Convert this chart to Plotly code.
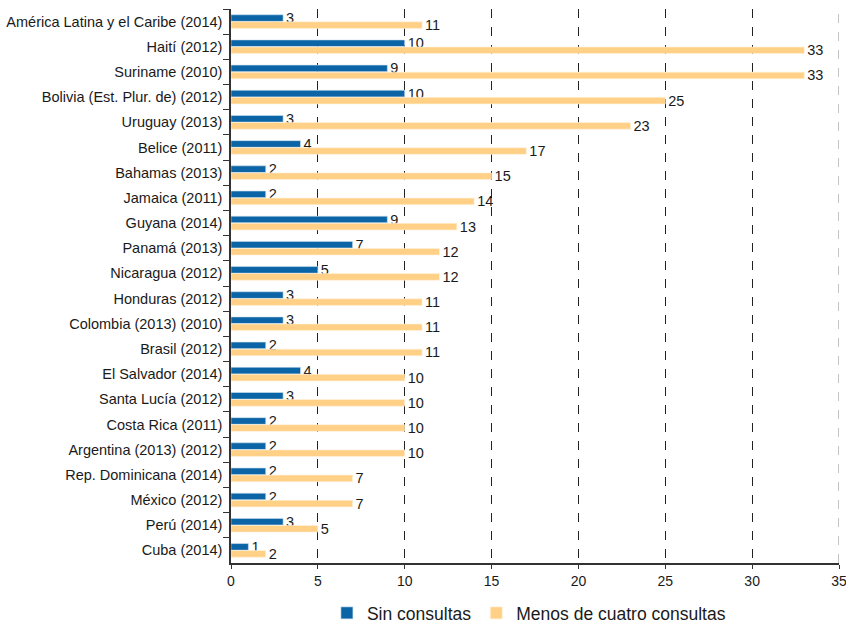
import plotly.graph_objects as go

categories = [
    "América Latina y el Caribe (2014)", "Haití (2012)", "Suriname (2010)",
    "Bolivia (Est. Plur. de) (2012)", "Uruguay (2013)", "Belice (2011)",
    "Bahamas (2013)", "Jamaica (2011)", "Guyana (2014)", "Panamá (2013)",
    "Nicaragua (2012)", "Honduras (2012)", "Colombia (2013) (2010)",
    "Brasil (2012)", "El Salvador (2014)", "Santa Lucía (2012)",
    "Costa Rica (2011)", "Argentina (2013) (2012)", "Rep. Dominicana (2014)",
    "México (2012)", "Perú (2014)", "Cuba (2014)",
]
sin_consultas = [3, 10, 9, 10, 3, 4, 2, 2, 9, 7, 5, 3, 3, 2, 4, 3, 2, 2, 2, 2, 3, 1]
menos_cuatro = [11, 33, 33, 25, 23, 17, 15, 14, 13, 12, 12, 11, 11, 11, 10, 10, 10, 10, 7, 7, 5, 2]
x_ticks = [0, 5, 10, 15, 20, 25, 30, 35]

FONT = "Liberation Sans, Arial, sans-serif"

fig = go.Figure()
fig.add_trace(go.Bar(
    y=categories, x=sin_consultas, orientation="h", name="Sin consultas",
    marker=dict(color="#0a64a5", line=dict(color="#cfe0ee", width=0.6)),
    text=[str(v) for v in sin_consultas], textposition="outside", constraintext="none",
    textfont=dict(size=14.5, color="#1a1a1a", family=FONT), cliponaxis=False,
))
fig.add_trace(go.Bar(
    y=categories, x=menos_cuatro, orientation="h", name="Menos de cuatro consultas",
    marker=dict(color="#ffd086", line=dict(color="#fff3df", width=0.6)),
    text=[str(v) for v in menos_cuatro], textposition="outside", constraintext="none",
    textfont=dict(size=14.5, color="#1a1a1a", family=FONT), cliponaxis=False,
))

fig.update_layout(
    width=846, height=624,
    margin=dict(l=231, r=7, t=9, b=61),
    barmode="group", bargap=0.44, bargroupgap=0.06,
    plot_bgcolor="white", paper_bgcolor="white",
    font=dict(family=FONT, size=14.5, color="#1a1a1a"),
    showlegend=True,
    legend=dict(orientation="h", x=0.49, xanchor="center",
                yref="container", y=11 / 624, yanchor="middle",
                font=dict(size=17.5, family=FONT, color="#1a1a1a"), traceorder="normal",
                itemwidth=30),
)
fig.update_xaxes(
    range=[0, 35], tickvals=x_ticks, ticktext=[str(v) for v in x_ticks],
    showgrid=True, gridcolor="#222222", griddash="dash", gridwidth=1,
    showline=True, linecolor="#333333", linewidth=1.5,
    ticks="outside", ticklen=4, tickcolor="#333333", ticklabeloverflow="allow",
    tickfont=dict(size=14), zeroline=False, automargin=False,
)
fig.update_yaxes(
    autorange="reversed", type="category",
    showline=True, linecolor="#333333", linewidth=1.5,
    ticks="outside", ticklen=6, tickcolor="#333333", tickson="boundaries",
    ticklabelstandoff=4,
    tickfont=dict(size=14.5), showgrid=False, automargin=False,
)
# right-edge gridline at 35 (plotly omits the gridline at the range end)
fig.add_vline(x=35, line=dict(color="#888888", width=1, dash="dash"), layer="below")

fig.write_html(
    "out.html",
    config={"displayModeBar": False},
    post_script="document.body.style.margin='0';document.documentElement.style.overflow='hidden';",
)
